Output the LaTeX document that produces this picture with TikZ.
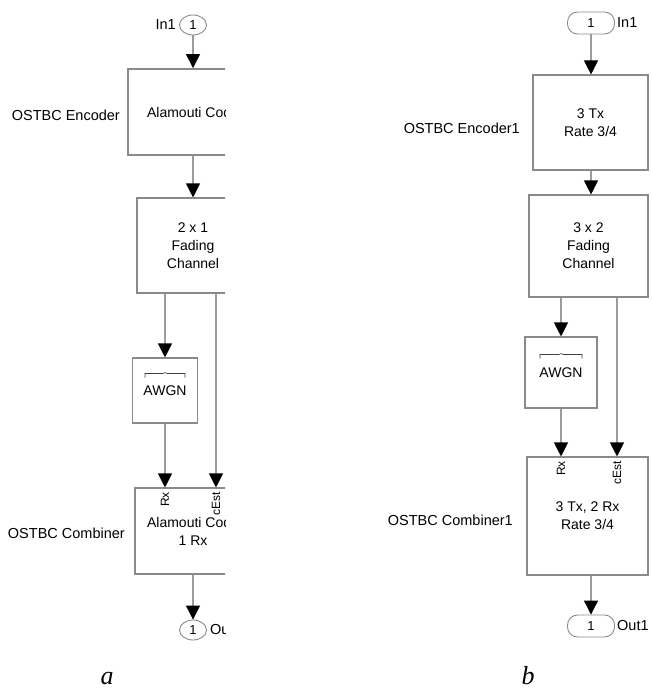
\documentclass[tikz,border=0pt]{standalone}
\usepackage{fontspec}
\setmainfont{Liberation Sans}
\newfontfamily\capfont{Liberation Serif}
\usetikzlibrary{arrows.meta,positioning,shapes.geometric}
\definecolor{SimEdge}{HTML}{8A8A8A}
\definecolor{SimWire}{HTML}{9C9C9C}
\tikzset{
  wire/.style={-{Triangle[color=black,width=14pt,length=14pt]}, line width=1.1pt, draw=SimWire},
  blk/.style={draw=SimEdge, line width=1.1pt, fill=white, align=center, inner sep=2pt,
              font=\fontsize{14}{18}\selectfont},
  portA/.style={ellipse, draw=SimEdge, line width=0.9pt, minimum width=27pt, minimum height=20pt,
                inner sep=0pt, font=\fontsize{13}{15}\selectfont},
  portB/.style={rectangle, rounded corners=10pt, draw=SimEdge, line width=0.9pt, minimum width=47pt,
                minimum height=22pt, inner sep=0pt, font=\fontsize{13}{15}\selectfont},
  tag/.style={inner sep=0pt, font=\fontsize{14.5}{17}\selectfont},
  pinlbl/.style={rotate=90, anchor=east, inner sep=0pt, font=\fontsize{12}{14}\selectfont},
  icon/.style={draw=black!75, line width=0.6pt},
  caption/.style={anchor=base, inner sep=0pt, font=\capfont\itshape\fontsize{26}{28}\selectfont},
}
\begin{document}
\begin{tikzpicture}[x=1pt,y=-1pt]
  \useasboundingbox (0,0) rectangle (651,690);
  % ---- (a) Alamouti 2x1 ----
  \begin{scope}
    \clip (0,0) rectangle (225,690);
    \node[portA] (inA) at (193,25) {1};
    \node[tag,anchor=east] (inAlbl) at (176,25) {In1};
    \node[blk,minimum width=130pt,minimum height=86pt,line width=1.8pt] (encA) at (193,112) {Alamouti Code};
    \node[tag,anchor=east] (encAlbl) at (120,115) {OSTBC Encoder};
    \node[blk,minimum width=112pt,minimum height=95pt] (fadeA) at (193,245.5) {2 x 1\\Fading\\Channel};
    \node[blk,minimum width=65pt,minimum height=65pt] (awgnA) at (165,390.5) {AWGN};
    \node[blk,minimum width=116pt,minimum height=86pt] (combA) at (193,531) {Alamouti Code\\1 Rx};
    \node[tag,anchor=east] (combAlbl) at (125,533) {OSTBC Combiner};
    \node[pinlbl] (rxA) at (165,492) {Rx};
    \node[pinlbl] (cEstA) at (216,492) {cEst};
    \node[portA] (outA) at (193,630) {1};
    \node[tag,anchor=west] (outAlbl) at (210,630) {Out1};
    \draw[icon] ([shift={(-20,-13)}]awgnA.center) -- ++(0,-4) -- ++(18,0) -- ++(2,-1) -- ++(2,1) -- ++(18,0) -- ++(0,4);
    \draw[wire] (inA) -- (encA);
    \draw[wire] (encA) -- (fadeA);
    \draw[wire] (awgnA |- fadeA.south) -- (awgnA.north);
    \draw[wire] (awgnA.south) -- (awgnA |- combA.north);
    \draw[wire] (cEstA |- fadeA.south) -- (cEstA |- combA.north);
    \draw[wire] (combA) -- (outA);
  \end{scope}
  \node[caption] (capA) at (107,684) {a};
  % ---- (b) 3 Tx, 2 Rx ----
  \node[portB] (inB) at (591,23) {1};
  \node[tag,anchor=west] (inBlbl) at (617,23) {In1};
  \node[blk,minimum width=115pt,minimum height=95pt] (encB) at (590.5,122.5) {3 Tx\\Rate 3/4};
  \node[tag,anchor=east] (encBlbl) at (520,128) {OSTBC Encoder1};
  \node[blk,minimum width=119pt,minimum height=102pt] (fadeB) at (588.5,246) {3 x 2\\Fading\\Channel};
  \node[blk,minimum width=72pt,minimum height=71pt] (awgnB) at (561,372.5) {AWGN};
  \node[blk,minimum width=121pt,minimum height=118pt] (combB) at (587.5,516) {3 Tx, 2 Rx\\Rate 3/4};
  \node[tag,anchor=east] (combBlbl) at (513,520) {OSTBC Combiner1};
  \node[pinlbl] (rxB) at (561,461) {Rx};
  \node[pinlbl] (cEstB) at (617,461) {cEst};
  \node[portB] (outB) at (591,626) {1};
  \node[tag,anchor=west] (outBlbl) at (617,626) {Out1};
  \draw[icon] ([shift={(-21,-14)}]awgnB.center) -- ++(0,-4) -- ++(19,0) -- ++(2,-1) -- ++(2,1) -- ++(19,0) -- ++(0,4);
  \draw[wire] (inB) -- (encB.north -| inB);
  \draw[wire] (encB.south -| inB) -- (fadeB.north -| inB);
  \draw[wire] (awgnB |- fadeB.south) -- (awgnB.north);
  \draw[wire] (awgnB.south) -- (awgnB |- combB.north);
  \draw[wire] (cEstB |- fadeB.south) -- (cEstB |- combB.north);
  \draw[wire] (combB.south -| outB) -- (outB);
  \node[caption] (capB) at (528,684) {b};
\end{tikzpicture}
\end{document}
